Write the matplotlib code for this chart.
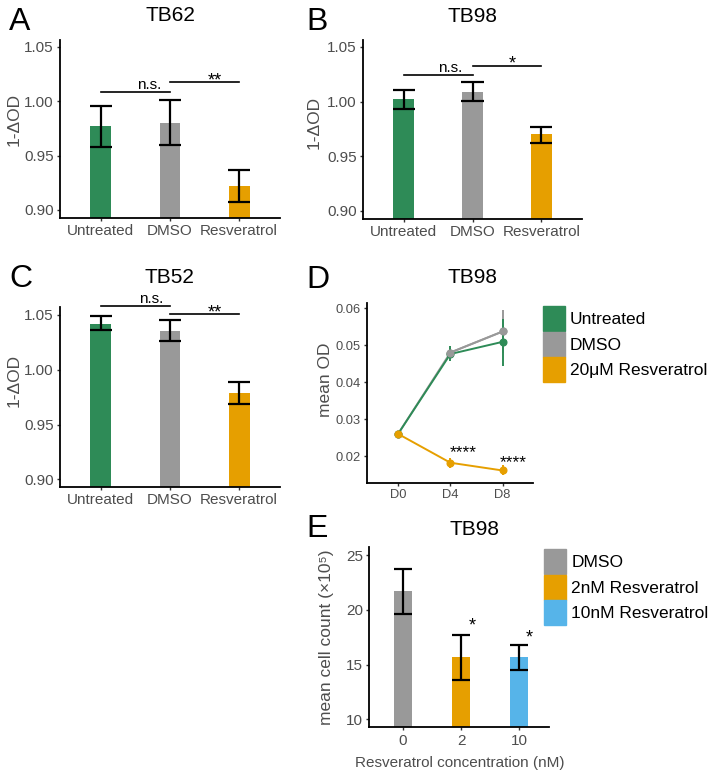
import matplotlib
matplotlib.use("Agg")
import matplotlib.pyplot as plt
from matplotlib.patches import Patch
import numpy as np

plt.rcParams['font.family'] = ['Liberation Sans', 'DejaVu Sans']

# ---------------- data ----------------
groups = ['Untreated', 'DMSO', 'Resveratrol']

tb62_mean = [0.977, 0.980, 0.922]
tb62_lo = [0.958, 0.960, 0.907]
tb62_hi = [0.996, 1.001, 0.937]

tb98_mean = [1.002, 1.009, 0.970]
tb98_lo = [0.993, 1.001, 0.962]
tb98_hi = [1.011, 1.018, 0.977]

tb52_mean = [1.042, 1.035, 0.979]
tb52_lo = [1.036, 1.026, 0.969]
tb52_hi = [1.049, 1.045, 0.989]

od_ticks = [0.90, 0.95, 1.00, 1.05]

days = ['D0', 'D4', 'D8']
untreated_od = [0.0260, 0.0476, 0.0509]
untreated_lo = [0.0257, 0.0456, 0.0443]
untreated_hi = [0.0263, 0.0497, 0.0572]
dmso_od = [0.0260, 0.0480, 0.0537]
dmso_lo = [0.0257, 0.0470, 0.0478]
dmso_hi = [0.0263, 0.0492, 0.0595]
res_od = [0.0260, 0.0182, 0.0161]
res_lo = [0.0256, 0.0168, 0.0150]
res_hi = [0.0264, 0.0195, 0.0175]
d_labels = ['Untreated', 'DMSO', '20μM Resveratrol']
meanod_ticks = [0.02, 0.03, 0.04, 0.05, 0.06]

conc = ['0', '2', '10']
cell_mean = [21.7, 15.66, 15.66]
cell_lo = [19.6, 13.6, 14.5]
cell_hi = [23.7, 17.7, 16.8]
e_labels = ['DMSO', '2nM Resveratrol', '10nM Resveratrol']
cell_ticks = [10, 15, 20, 25]

# ---------------- style ----------------
GREEN = '#2E8B57'
GRAY = '#999999'
ORANGE = '#E69F00'
BLUE = '#56B4E9'
TICKCOL = '#4D4D4D'

W, H = 709, 773
fig = plt.figure(figsize=(W / 100, H / 100), dpi=100)


def axes_px(left, top, right, bottom):
    return fig.add_axes([left / W, 1 - bottom / H, (right - left) / W, (bottom - top) / H])


def fx(x):
    return x / W


def fy(y):
    return 1 - y / H


def style(ax, labelsize=11):
    for s in ['top', 'right']:
        ax.spines[s].set_visible(False)
    for s in ['left', 'bottom']:
        ax.spines[s].set_linewidth(1.3)
        ax.spines[s].set_color('black')
    ax.tick_params(axis='both', length=2.5, width=1.0, color='#333333',
                   labelsize=labelsize, labelcolor=TICKCOL, pad=2)


def bar_panel(ax, means, lo, hi, colors, labels, ylim, yticks, fmt, barw=0.3):
    x = np.arange(1, len(means) + 1)
    ax.bar(x, means, width=barw, color=colors, zorder=2)
    ax.vlines(x, lo, hi, color='black', lw=1.6, zorder=3)
    ax.hlines(lo, x - barw / 2 - 0.01, x + barw / 2 + 0.01, color='black', lw=1.6, zorder=3)
    ax.hlines(hi, x - barw / 2 - 0.01, x + barw / 2 + 0.01, color='black', lw=1.6, zorder=3)
    ax.set_xticks(x)
    ax.set_xticklabels(labels)
    ax.set_xlim(0.41, len(means) + 0.59)
    ax.set_ylim(*ylim)
    ax.set_yticks(yticks)
    ax.set_yticklabels([fmt.format(v) for v in yticks])
    style(ax)


def bracket(ax, x1, x2, y, text, tx, star=False):
    ax.plot([x1, x2], [y, y], color='black', lw=1.2, clip_on=False)
    if star:
        ax.annotate(text, (tx, y), xytext=(0, -2.3), textcoords='offset points',
                    ha='center', va='baseline', fontsize=13, annotation_clip=False)
    else:
        ax.annotate(text, (tx, y), xytext=(0, 2.0), textcoords='offset points',
                    ha='center', va='baseline', fontsize=11, annotation_clip=False)


def title(x, y, s):
    fig.text(fx(x), fy(y), s, ha='center', va='baseline', fontsize=15)


def ylab(x, y, s, fs=12.5):
    fig.text(fx(x), fy(y), s, ha='center', va='center', rotation=90,
             fontsize=fs, color=TICKCOL)


cols3 = [GREEN, GRAY, ORANGE]

# Panel A
axA = axes_px(60, 40, 280, 218)
bar_panel(axA, tb62_mean, tb62_lo, tb62_hi, cols3, groups, (0.8926, 1.0564), od_ticks, '{:.2f}')
ylab(14, 119, '1-ΔOD')
title(170, 21, 'TB62')
bracket(axA, 1, 2, 1.009, 'n.s.', 1.70)
bracket(axA, 2, 3, 1.0175, '**', 2.65, star=True)

# Panel B
axB = axes_px(363, 40, 582, 219)
bar_panel(axB, tb98_mean, tb98_lo, tb98_hi, cols3, groups, (0.8926, 1.0564), od_ticks, '{:.2f}')
ylab(314, 122, '1-ΔOD')
title(472, 22, 'TB98')
bracket(axB, 1, 2, 1.0245, 'n.s.', 1.67)
bracket(axB, 2, 3, 1.033, '*', 2.57, star=True)

# Panel C
axC = axes_px(60, 307, 280, 487)
bar_panel(axC, tb52_mean, tb52_lo, tb52_hi, cols3, groups, (0.893, 1.0573), od_ticks, '{:.2f}')
ylab(14, 380, '1-ΔOD')
title(169, 283, 'TB52')
bracket(axC, 1, 2, 1.0585, 'n.s.', 1.73)
bracket(axC, 2, 3, 1.051, '**', 2.65, star=True)

# Panel D
axD = axes_px(366.7, 303, 533, 482.7)
xd = np.arange(1, len(days) + 1)
series = [(dmso_od, dmso_lo, dmso_hi, GRAY, 3),
          (untreated_od, untreated_lo, untreated_hi, GREEN, 4),
          (res_od, res_lo, res_hi, ORANGE, 5)]
for vals, lo, hi, c, z in series:
    axD.vlines(xd, lo, hi, color=c, lw=1.4, zorder=z)
    axD.plot(xd, vals, color=c, lw=1.4, marker='o', markersize=4.8, zorder=z)
axD.plot(xd[1:], dmso_od[1:], color=GRAY, lw=1.4, marker='o', markersize=4.8, zorder=6)
axD.set_xticks(xd)
axD.set_xticklabels(days)
axD.set_xlim(0.40, 3.58)
axD.set_ylim(0.0128, 0.0614)
axD.set_yticks(meanod_ticks)
axD.set_yticklabels(['{:.2f}'.format(v) for v in meanod_ticks])
style(axD, labelsize=9.3)
ylab(326, 380, 'mean OD')
title(472, 283, 'TB98')
axD.text(2.24, 0.0198, '****', ha='center', va='baseline', fontsize=12.5)
axD.text(3.20, 0.0171, '****', ha='center', va='baseline', fontsize=12.5)
axD.legend([Patch(color=c) for c in [GREEN, GRAY, ORANGE]], d_labels,
           loc='upper left', bbox_to_anchor=(fx(542.5), fy(306)),
           bbox_transform=fig.transFigure, frameon=False, fontsize=12.5,
           handlelength=1.28, handleheight=1.84, handletextpad=0.3,
           labelspacing=0.03, borderpad=0, borderaxespad=0)

# Panel E
axE = axes_px(369.3, 546.7, 549.3, 727.3)
bar_panel(axE, cell_mean, cell_lo, cell_hi, [GRAY, ORANGE, BLUE], conc, (9.27, 25.76), cell_ticks, '{:d}')
axE.set_xlim(0.42, 3.52)
ylab(327, 637, 'mean cell count (×10⁵)')
axE.set_xlabel('Resveratrol concentration (nM)', fontsize=11, color=TICKCOL, labelpad=6)
title(475, 535, 'TB98')
axE.text(2.19, 18.1, '*', ha='center', va='baseline', fontsize=13)
axE.text(3.17, 17.04, '*', ha='center', va='baseline', fontsize=13)
axE.legend([Patch(color=c) for c in [GRAY, ORANGE, BLUE]], e_labels,
           loc='upper left', bbox_to_anchor=(fx(544), fy(549)),
           bbox_transform=fig.transFigure, frameon=False, fontsize=12.5,
           handlelength=1.28, handleheight=1.84, handletextpad=0.3,
           labelspacing=0.03, borderpad=0, borderaxespad=0)

# Panel letters
for lab, x, y in [('A', 9, 30), ('B', 306, 30), ('C', 9, 287), ('D', 306, 288), ('E', 306, 537)]:
    fig.text(fx(x), fy(y), lab, fontsize=23, ha='left', va='baseline')

fig.savefig('out.png', dpi=100)
